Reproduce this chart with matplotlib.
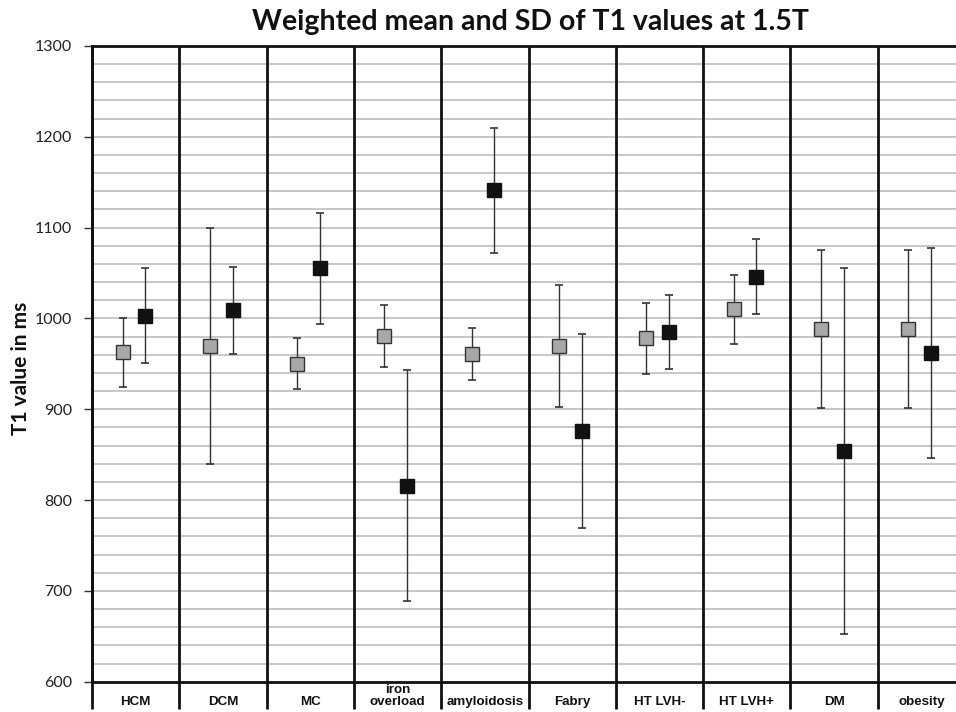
import matplotlib
matplotlib.use("Agg")
import matplotlib.pyplot as plt
import matplotlib.transforms as mtransforms
import numpy as np

categories = ["HCM", "DCM", "MC", "iron\noverload", "amyloidosis", "Fabry",
              "HT LVH-", "HT LVH+", "DM", "obesity"]
gray_mean = [963, 970, 950, 981, 961, 970, 978, 1010, 988, 988]
gray_sd = [38, 130, 28, 34, 29, 67, 39, 38, 87, 87]
black_mean = [1003, 1009, 1055, 816, 1141, 876, 985, 1046, 854, 962]
black_sd = [52, 48, 61, 127, 69, 107, 41, 41, 202, 116]
y_ticks = [600, 700, 800, 900, 1000, 1100, 1200, 1300]

W, H = 956, 712
fig = plt.figure(figsize=(W / 100, H / 100), dpi=100)
left, right, top, bottom = 92, 965, 46, 681.7
ax = fig.add_axes([left / W, (H - bottom) / H, (right - left) / W, (bottom - top) / H])

n = len(categories)
ax.set_xlim(0, n)
ax.set_ylim(600, 1300)

# horizontal gridlines every 20 ms
for v in np.arange(620, 1300, 20):
    ax.axhline(v, color="#c4c4c4", lw=1.3, zorder=1)

ax.set_yticks(y_ticks)
ax.set_yticklabels([str(t) for t in y_ticks], fontfamily="Lato", fontsize=11.5, color="#222222")
ax.tick_params(axis="y", length=6, width=1, color="#333333", pad=8.5)
ax.set_xticks([])

for s in ax.spines.values():
    s.set_linewidth(2.0)
    s.set_color("#111111")

trans = mtransforms.blended_transform_factory(ax.transData, ax.transAxes)
ph = bottom - top
ext = -27 / ph
for i in range(0, n + 1):
    ax.plot([i, i], [ext, 1], transform=trans, color="#111111", lw=2.0,
            clip_on=False, zorder=3, solid_capstyle="butt")

x = np.arange(n) + 0.5
xg = x - 0.15
xb = x + 0.11
ax.errorbar(xg, gray_mean, yerr=gray_sd, fmt="none", ecolor="#333333",
            elinewidth=1.0, capsize=3, capthick=1.2, zorder=4)
ax.errorbar(xb, black_mean, yerr=black_sd, fmt="none", ecolor="#333333",
            elinewidth=1.0, capsize=3, capthick=1.2, zorder=4)
ax.plot(xg, gray_mean, ls="none", marker="s", ms=9.5, mfc="#a8a8a8",
        mec="#333333", mew=1.0, zorder=5)
ax.plot(xb, black_mean, ls="none", marker="s", ms=9.5, mfc="#111111",
        mec="#111111", mew=1.0, zorder=5)

for xi, lab in zip(x, categories):
    nl = lab.count("\n") + 1
    yc = 702 if nl == 1 else 696
    ax.text(xi, -(yc - bottom) / ph, lab, transform=trans, ha="center", va="center",
            fontfamily="Liberation Sans", fontweight="bold", fontsize=9.6,
            linespacing=1.02, color="#111111", clip_on=False)

ax.set_ylabel("T1 value in ms", fontfamily="Lato", fontweight="bold",
              fontsize=15, color="#111111")
ax.yaxis.set_label_coords(-(92 - 31) / (right - left), 1 - (368 - top) / ph)
fig.text(530 / W, 1 - 22 / H, "Weighted mean and SD of T1 values at 1.5T",
         ha="center", va="center", fontfamily="Lato", fontweight="bold",
         fontsize=20.5, color="#111111")

fig.savefig("out.png", dpi=100)
